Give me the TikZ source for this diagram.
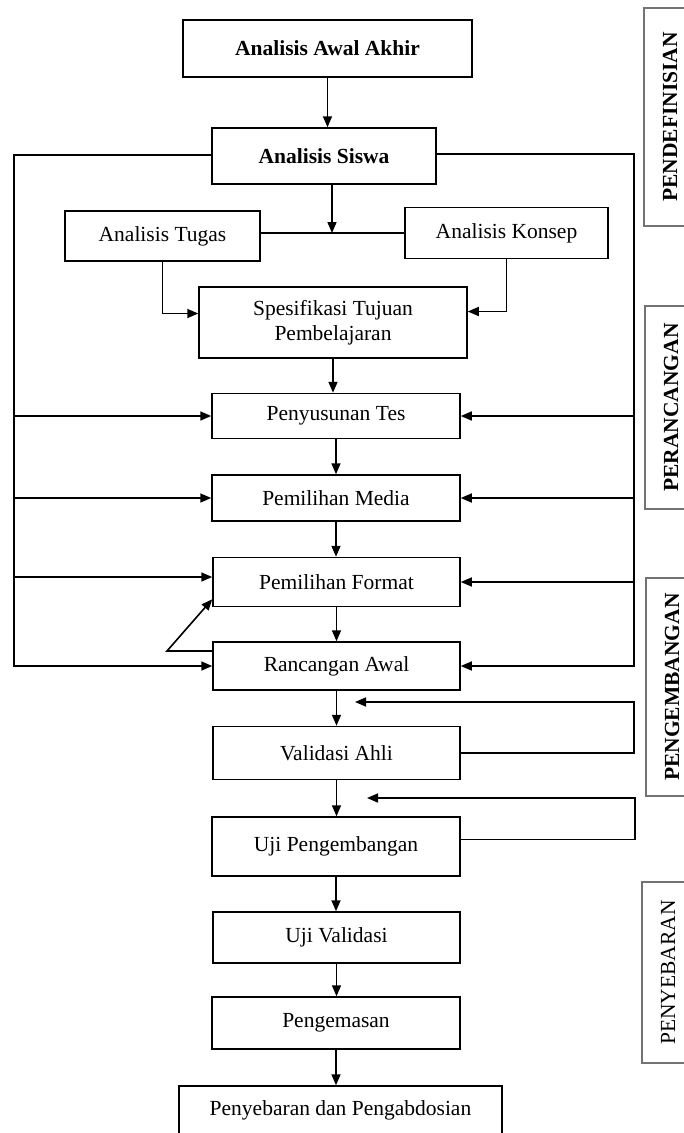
\documentclass[tikz,border=0pt]{standalone}
\usepackage{fontspec}
\setmainfont{Liberation Serif}
\usetikzlibrary{calc,arrows.meta}

\tikzset{
  box/.style={draw, line width=1.5pt, fill=white, align=center, inner sep=2pt,
    font=\fontsize{21.5}{25}\selectfont},
  boldbox/.style={box, font=\fontsize{21.5}{25}\selectfont\bfseries},
  phase/.style={draw=black!55, line width=1.1pt, rotate=90, minimum height=52pt,
    inner sep=0pt, font=\fontsize{21.5}{25}\selectfont},
  arr/.style={line width=1.6pt, -{Triangle[length=11pt,width=9pt]}},
  ln/.style={line width=1.6pt},
}

\begin{document}
\begin{tikzpicture}[x=1pt, y=-1pt]
  \useasboundingbox (0,0) rectangle (684,1133);
  \clip (0,0) rectangle (684,1133);

  % Define stage
  \node[boldbox, minimum width=289pt, minimum height=57pt] (awal) at (327.5,48.5) {Analisis Awal Akhir};
  \node[boldbox, minimum width=224pt, minimum height=56pt] (siswa) at (324,156) {Analisis Siswa};
  \node[box, minimum width=195pt, minimum height=50pt] (tugas) at (162.5,236) {Analisis Tugas};
  \node[box, minimum width=203pt, minimum height=51pt] (konsep) at (506.5,233) {Analisis Konsep};
  \node[box, minimum width=268pt, minimum height=71pt] (spes) at (333,322.5) {Spesifikasi Tujuan\\Pembelajaran};

  % Design stage
  \node[box, minimum width=248pt, minimum height=45pt] (tes) at (336,416) {Penyusunan Tes};
  \node[box, minimum width=248pt, minimum height=46pt] (media) at (336,498) {Pemilihan Media};
  \node[box, minimum width=247pt, minimum height=49pt] (format) at (336.5,582) {Pemilihan Format};
  \node[box, minimum width=247pt, minimum height=48pt] (rancangan) at (336.5,666) {Rancangan Awal};

  % Develop stage
  \node[box, minimum width=247pt, minimum height=53pt] (validasi) at (336.5,753) {Validasi Ahli};
  \node[box, minimum width=248pt, minimum height=59pt] (ujipeng) at (336,846.5) {Uji Pengembangan};

  % Disseminate stage
  \node[box, minimum width=247pt, minimum height=51pt] (ujival) at (336.5,937.5) {Uji Validasi};
  \node[box, minimum width=248pt, minimum height=52pt] (kemas) at (336,1023) {Pengemasan};
  \node[box, minimum width=323pt, minimum height=48pt] (sebar) at (340.5,1110) {Penyebaran dan Pengabdosian};

  % Side labels
  \node[phase, font=\fontsize{21.5}{25}\selectfont\bfseries, minimum width=218pt] (pdef) at (670,117) {PENDEFINISIAN};
  \node[phase, font=\fontsize{21.5}{25}\selectfont\bfseries, minimum width=203pt] (prcg) at (671,407.5) {PERANCANGAN};
  \node[phase, font=\fontsize{21.5}{25}\selectfont\bfseries, minimum width=218pt] (pgbg) at (672,687) {PENGEMBANGAN};
  \node[phase, minimum width=181pt] (pseb) at (668,972.5) {PENYEBARAN};

  % Helper points
  \coordinate (lft) at (14,0);
  \coordinate (rgt) at (634,0);
  \coordinate (junc) at (332,233);
  \coordinate (fmtin) at (format.west |- 0,577);
  \coordinate (fbva) at (355,702);
  \coordinate (fbup) at (367,798);
  \coordinate (knee) at (167,651);

  % Main flow
  \draw[arr] (awal.south) -- (awal.south |- siswa.north);
  \draw[arr] (siswa.south -| junc) -- (junc);
  \draw[ln] (tugas.east |- konsep.west) -- (konsep.west);
  \draw[arr] (tugas.south) |- ($(spes.west)+(0,-9)$);
  \draw[arr] (konsep.south) |- ($(spes.east)+(0,-11)$);
  \draw[arr] (spes.south) -- (spes.south |- tes.north);
  \draw[arr] (tes.south) -- (tes.south |- media.north);
  \draw[arr] (media.south) -- (media.south |- format.north);
  \draw[arr] (format.south) -- (format.south |- rancangan.north);
  \draw[arr] (rancangan.south) -- (rancangan.south |- validasi.north);
  \draw[arr] (validasi.south) -- (validasi.south |- ujipeng.north);
  \draw[arr] (ujipeng.south) -- (ujipeng.south |- ujival.north);
  \draw[arr] (ujival.south) -- (ujival.south |- kemas.north);
  \draw[arr] (kemas.south) -- (kemas.south |- sebar.north);

  % Left loop from Analisis Siswa
  \draw[arr] ($(siswa.west)+(0,-1)$) -| (lft |- rancangan.west) -- (rancangan.west);
  \draw[arr] (lft |- tes.west) -- (tes.west);
  \draw[arr] (lft |- media.west) -- (media.west);
  \draw[arr] (lft |- fmtin) -- (fmtin);

  % Right loop from Analisis Siswa
  \draw[arr] ($(siswa.east)+(0,-2)$) -| (rgt |- rancangan.east) -- (rancangan.east);
  \draw[arr] (rgt |- tes.east) -- (tes.east);
  \draw[arr] (rgt |- media.east) -- (media.east);
  \draw[arr] (rgt |- format.east) -- (format.east);

  % Revision loops
  \draw[arr] ($(rancangan.west)+(0,-15)$) -- (knee) -- ($(format.south west)+(0,-8)$);
  \draw[arr] (validasi.east) -| (rgt |- fbva) -- (fbva);
  \draw[arr] ($(ujipeng.east)+(0,-7)$) -| ($(rgt |- fbup)+(1,0)$) -- (fbup);
\end{tikzpicture}
\end{document}
